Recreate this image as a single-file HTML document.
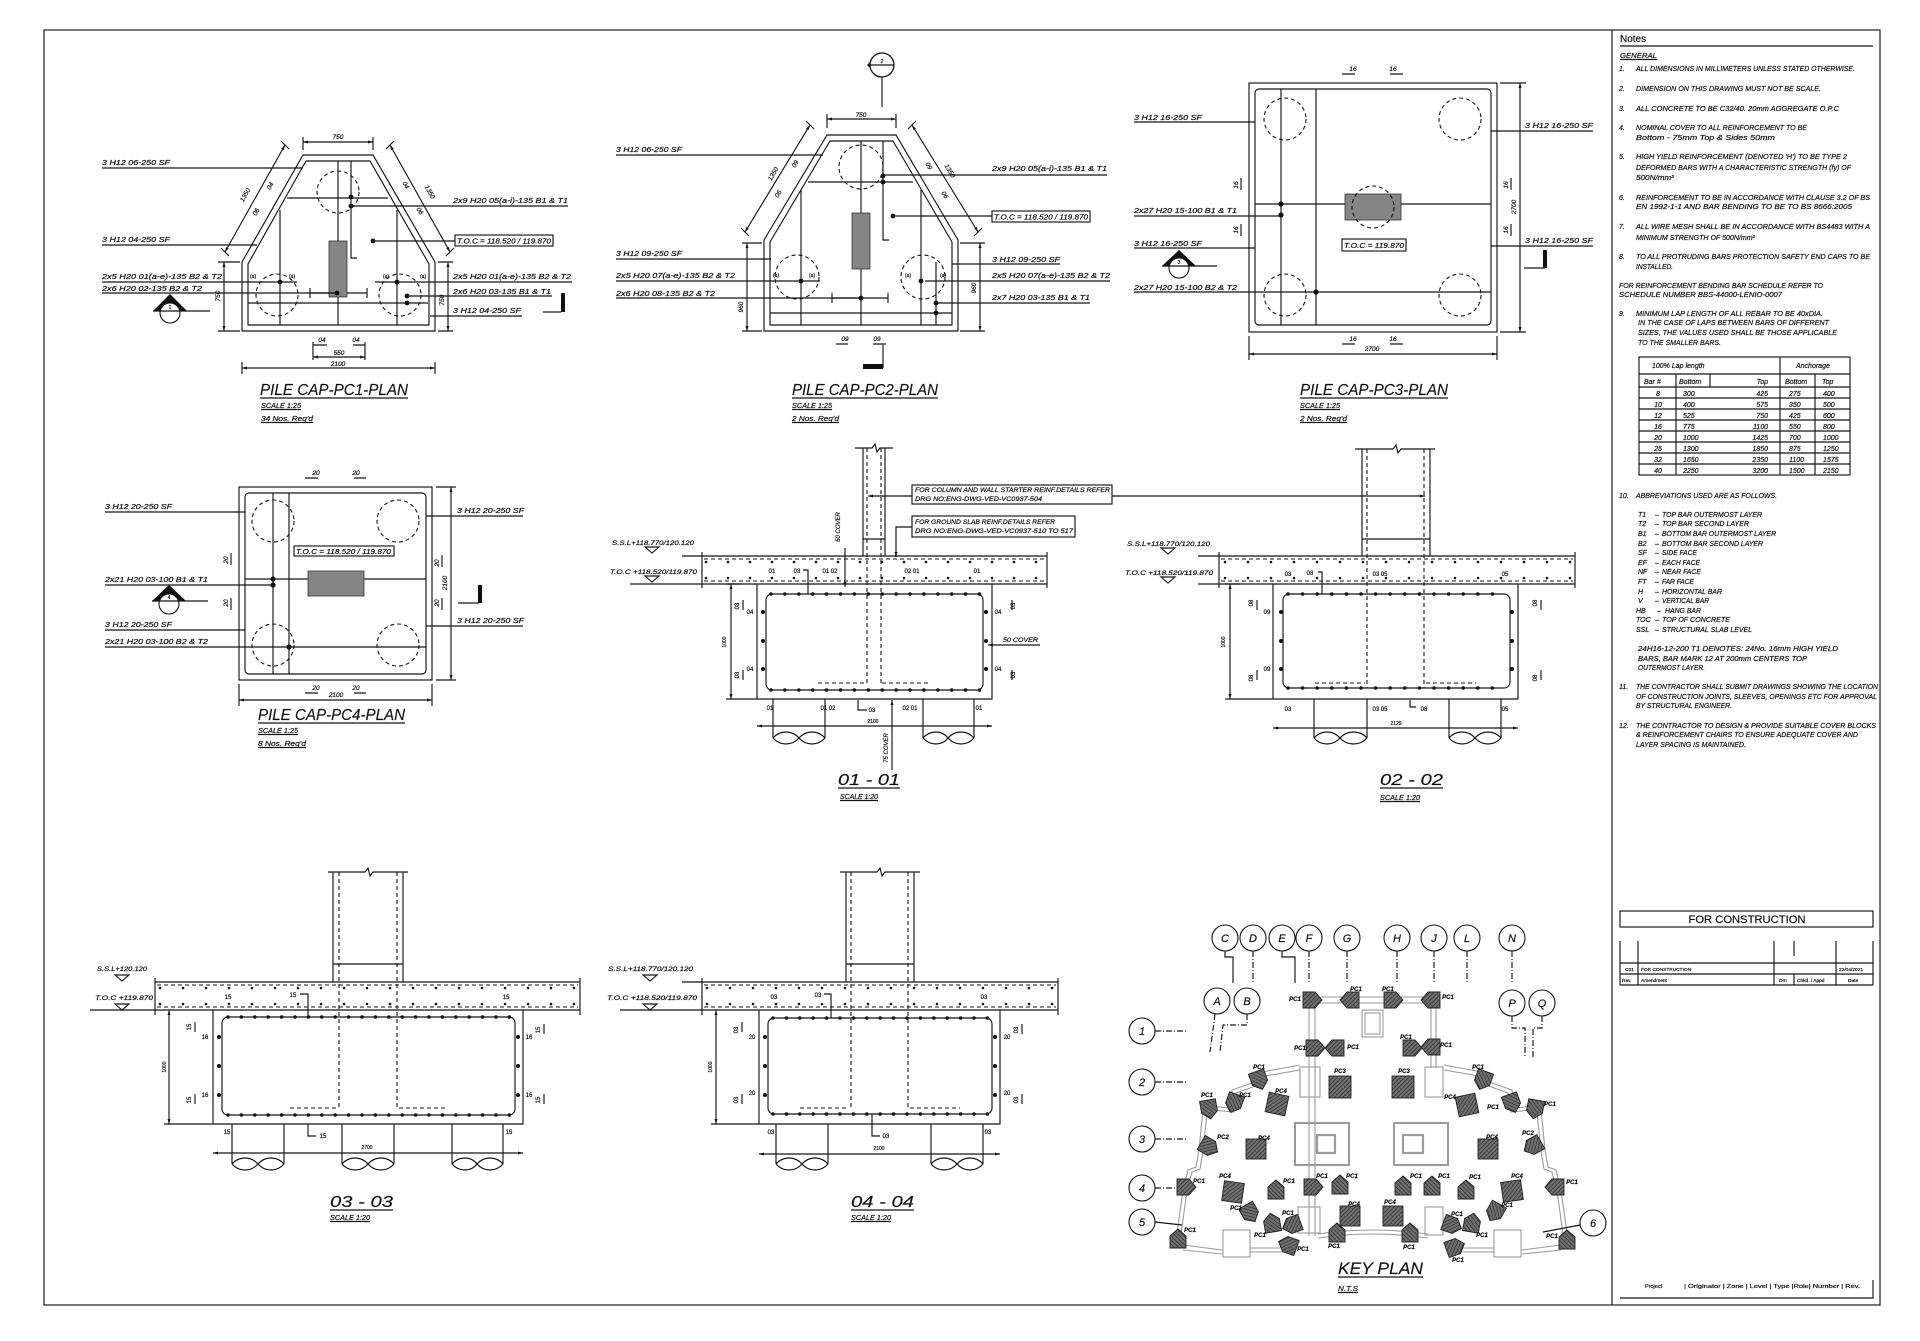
<!DOCTYPE html>
<html><head><meta charset="utf-8">
<style>
html,body{margin:0;padding:0;background:#fff;}
svg{display:block;}
.s{fill:none;stroke:#151515;stroke-width:1.15;}
.g{fill:none;stroke:#9a9a9a;stroke-width:1.1;}
.d{fill:none;stroke:#151515;stroke-width:1.1;stroke-dasharray:4,3;}
.dt{fill:none;stroke:#151515;stroke-linecap:round;}
text{font-family:"Liberation Sans",sans-serif;fill:#111;stroke:#111;stroke-width:0.2;}
.l{font-size:7px;font-style:italic;}
.n{font-size:6px;}
.ni{font-size:6.5px;font-style:italic;}
.ti{font-size:16px;font-style:italic;stroke-width:0.15;}
.k{font-size:11px;font-style:italic;}
.kp{font-size:6px;font-style:italic;font-weight:bold;}
</style></head><body>
<svg width="1920" height="1341" viewBox="0 0 1920 1341" xmlns="http://www.w3.org/2000/svg">
<defs>
<marker id="ar" viewBox="0 0 10 10" refX="10" refY="5" markerWidth="5" markerHeight="5" orient="auto-start-reverse" markerUnits="userSpaceOnUse"><path d="M0,2L10,5L0,8Z" fill="#151515"/></marker>
<pattern id="h" width="3" height="3" patternUnits="userSpaceOnUse" patternTransform="rotate(45)"><rect width="3" height="3" fill="#707070"/><line x1="0" y1="0" x2="0" y2="3" stroke="#222" stroke-width="1.3"/></pattern>
<path id="pc1" d="M-9,-8H3L10,0L3,8H-9Z" fill="url(#h)" stroke="#222" stroke-width="0.9"/>
<rect id="pc4" x="-10" y="-10" width="20" height="20" fill="url(#h)" stroke="#222" stroke-width="0.9"/>
<rect id="pc3" x="-11" y="-11" width="22" height="22" fill="url(#h)" stroke="#222" stroke-width="0.9"/>
</defs>
<rect width="1920" height="1341" fill="#fff"/>
<!-- frame -->
<rect class="s" x="44" y="30" width="1836" height="1275" stroke="#444" stroke-width="1.5"/>
<line class="s" x1="1612" y1="30" x2="1612" y2="1305" stroke-width="1.5"/>

<!-- ================= NOTES ================= -->
<text x="1620" y="42" style="font-size:10px">Notes</text>
<line class="s" x1="1620" y1="46" x2="1873" y2="46" stroke-width="2"/>
<text class="l" x="1620" y="58" textLength="37" lengthAdjust="spacingAndGlyphs">GENERAL</text>
<line class="s" x1="1620" y1="59.5" x2="1657" y2="59.5" stroke-width="0.7"/>
<g class="l">
<text x="1619" y="71">1.</text><text x="1636" y="71" textLength="219" lengthAdjust="spacingAndGlyphs">ALL DIMENSIONS IN MILLIMETERS UNLESS STATED OTHERWISE.</text>
<text x="1619" y="91">2.</text><text x="1636" y="91" textLength="185" lengthAdjust="spacingAndGlyphs">DIMENSION ON THIS DRAWING MUST NOT BE SCALE.</text>
<text x="1619" y="111">3.</text><text x="1636" y="111" textLength="203" lengthAdjust="spacingAndGlyphs">ALL CONCRETE TO BE C32/40. 20mm AGGREGATE O.P.C</text>
<text x="1619" y="130">4.</text><text x="1636" y="130" textLength="171" lengthAdjust="spacingAndGlyphs">NOMINAL COVER TO ALL REINFORCEMENT TO BE</text>
<text x="1636" y="140" textLength="139" lengthAdjust="spacingAndGlyphs">Bottom - 75mm Top &amp; Sides 50mm</text>
<text x="1619" y="159">5.</text><text x="1636" y="159" textLength="211" lengthAdjust="spacingAndGlyphs">HIGH YIELD REINFORCEMENT (DENOTED 'H') TO BE TYPE 2</text>
<text x="1636" y="170" textLength="215" lengthAdjust="spacingAndGlyphs">DEFORMED BARS WITH A CHARACTERISTIC STRENGTH (fy) OF</text>
<text x="1636" y="180" textLength="38" lengthAdjust="spacingAndGlyphs">500N/mm²</text>
<text x="1619" y="200">6.</text><text x="1636" y="200" textLength="234" lengthAdjust="spacingAndGlyphs">REINFORCEMENT TO BE IN ACCORDANCE WITH CLAUSE 3.2 OF BS</text>
<text x="1636" y="209" textLength="216" lengthAdjust="spacingAndGlyphs">EN 1992-1-1 AND BAR BENDING TO BE TO BS 8666:2005</text>
<text x="1619" y="229">7.</text><text x="1636" y="229" textLength="234" lengthAdjust="spacingAndGlyphs">ALL WIRE MESH SHALL BE IN ACCORDANCE WITH BS4483 WITH A</text>
<text x="1636" y="240" textLength="119" lengthAdjust="spacingAndGlyphs">MINIMUM STRENGTH OF 500N/mm²</text>
<text x="1619" y="259">8.</text><text x="1636" y="259" textLength="234" lengthAdjust="spacingAndGlyphs">TO ALL PROTRUDING BARS PROTECTION SAFETY END CAPS TO BE</text>
<text x="1636" y="269" textLength="37" lengthAdjust="spacingAndGlyphs">INSTALLED.</text>
<text x="1619" y="288" textLength="204" lengthAdjust="spacingAndGlyphs">FOR REINFORCEMENT BENDING BAR SCHEDULE REFER TO</text>
<text x="1619" y="297" textLength="163" lengthAdjust="spacingAndGlyphs">SCHEDULE NUMBER BBS-44000-LENIO-0007</text>
<text x="1619" y="316">9.</text><text x="1636" y="316" textLength="187" lengthAdjust="spacingAndGlyphs">MINIMUM LAP LENGTH OF ALL REBAR TO BE 40xDIA.</text>
<text x="1638" y="325" textLength="191" lengthAdjust="spacingAndGlyphs">IN THE CASE OF LAPS BETWEEN BARS OF DIFFERENT</text>
<text x="1638" y="335" textLength="199" lengthAdjust="spacingAndGlyphs">SIZES, THE VALUES USED SHALL BE THOSE APPLICABLE</text>
<text x="1638" y="345" textLength="83" lengthAdjust="spacingAndGlyphs">TO THE SMALLER BARS.</text>
</g>
<!-- table -->
<g class="s" stroke-width="1.2">
<rect x="1639" y="357" width="211" height="118"/>
<path d="M1639,374H1850 M1639,387H1850 M1639,398H1850 M1639,409H1850 M1639,420H1850 M1639,431H1850 M1639,442H1850 M1639,453H1850 M1639,464H1850 M1676,374V475 M1710,374V387 M1780,357V475 M1815,374V475"/>
</g>
<g class="l">
<text x="1652" y="368">100% Lap length</text><text x="1796" y="368">Anchorage</text>
<text x="1644" y="384">Bar #</text><text x="1679" y="384">Bottom</text><text x="1768" y="384" text-anchor="end">Top</text><text x="1785" y="384">Bottom</text><text x="1822" y="384">Top</text>
</g>
<g class="l">
<text x="1658" y="396" text-anchor="middle">8</text><text x="1683" y="396">300</text><text x="1768" y="396" text-anchor="end">425</text><text x="1789" y="396">275</text><text x="1823" y="396">400</text>
<text x="1658" y="407" text-anchor="middle">10</text><text x="1683" y="407">400</text><text x="1768" y="407" text-anchor="end">575</text><text x="1789" y="407">350</text><text x="1823" y="407">500</text>
<text x="1658" y="418" text-anchor="middle">12</text><text x="1683" y="418">525</text><text x="1768" y="418" text-anchor="end">750</text><text x="1789" y="418">425</text><text x="1823" y="418">600</text>
<text x="1658" y="429" text-anchor="middle">16</text><text x="1683" y="429">775</text><text x="1768" y="429" text-anchor="end">1100</text><text x="1789" y="429">550</text><text x="1823" y="429">800</text>
<text x="1658" y="440" text-anchor="middle">20</text><text x="1683" y="440">1000</text><text x="1768" y="440" text-anchor="end">1425</text><text x="1789" y="440">700</text><text x="1823" y="440">1000</text>
<text x="1658" y="451" text-anchor="middle">25</text><text x="1683" y="451">1300</text><text x="1768" y="451" text-anchor="end">1850</text><text x="1789" y="451">875</text><text x="1823" y="451">1250</text>
<text x="1658" y="462" text-anchor="middle">32</text><text x="1683" y="462">1650</text><text x="1768" y="462" text-anchor="end">2350</text><text x="1789" y="462">1100</text><text x="1823" y="462">1575</text>
<text x="1658" y="473" text-anchor="middle">40</text><text x="1683" y="473">2250</text><text x="1768" y="473" text-anchor="end">3200</text><text x="1789" y="473">1500</text><text x="1823" y="473">2150</text>
</g>
<g class="l">
<text x="1619" y="498">10.</text><text x="1636" y="498" textLength="141" lengthAdjust="spacingAndGlyphs">ABBREVIATIONS USED ARE AS FOLLOWS.</text>
<text x="1638" y="517">T1</text><text x="1655" y="517">–</text><text x="1662" y="517" textLength="100" lengthAdjust="spacingAndGlyphs">TOP BAR OUTERMOST LAYER</text>
<text x="1638" y="526">T2</text><text x="1655" y="526">–</text><text x="1662" y="526" textLength="87" lengthAdjust="spacingAndGlyphs">TOP BAR SECOND LAYER</text>
<text x="1638" y="536">B1</text><text x="1655" y="536">–</text><text x="1662" y="536" textLength="114" lengthAdjust="spacingAndGlyphs">BOTTOM BAR OUTERMOST LAYER</text>
<text x="1638" y="546">B2</text><text x="1655" y="546">–</text><text x="1662" y="546" textLength="101" lengthAdjust="spacingAndGlyphs">BOTTOM BAR SECOND LAYER</text>
<text x="1638" y="555">SF</text><text x="1655" y="555">–</text><text x="1662" y="555" textLength="35" lengthAdjust="spacingAndGlyphs">SIDE FACE</text>
<text x="1638" y="565">EF</text><text x="1655" y="565">–</text><text x="1662" y="565" textLength="38" lengthAdjust="spacingAndGlyphs">EACH FACE</text>
<text x="1638" y="574">NF</text><text x="1655" y="574">–</text><text x="1662" y="574" textLength="39" lengthAdjust="spacingAndGlyphs">NEAR FACE</text>
<text x="1638" y="584">FT</text><text x="1655" y="584">–</text><text x="1662" y="584" textLength="32" lengthAdjust="spacingAndGlyphs">FAR FACE</text>
<text x="1638" y="594">H</text><text x="1655" y="594">–</text><text x="1662" y="594" textLength="60" lengthAdjust="spacingAndGlyphs">HORIZONTAL BAR</text>
<text x="1638" y="603">V</text><text x="1655" y="603">–</text><text x="1662" y="603" textLength="47" lengthAdjust="spacingAndGlyphs">VERTICAL BAR</text>
<text x="1636" y="613">HB</text><text x="1657" y="613">–</text><text x="1665" y="613" textLength="36" lengthAdjust="spacingAndGlyphs">HANG BAR</text>
<text x="1636" y="622">TOC</text><text x="1655" y="622">–</text><text x="1662" y="622" textLength="68" lengthAdjust="spacingAndGlyphs">TOP OF CONCRETE</text>
<text x="1636" y="632">SSL</text><text x="1655" y="632">–</text><text x="1662" y="632" textLength="90" lengthAdjust="spacingAndGlyphs">STRUCTURAL SLAB LEVEL</text>
<text x="1638" y="651" textLength="200" lengthAdjust="spacingAndGlyphs">24H16-12-200 T1 DENOTES: 24No. 16mm HIGH YIELD</text>
<text x="1638" y="661" textLength="169" lengthAdjust="spacingAndGlyphs">BARS, BAR MARK 12 AT 200mm CENTERS TOP</text>
<text x="1638" y="670" textLength="67" lengthAdjust="spacingAndGlyphs">OUTERMOST LAYER.</text>
<text x="1619" y="689">11.</text><text x="1636" y="689" textLength="242" lengthAdjust="spacingAndGlyphs">THE CONTRACTOR SHALL SUBMIT DRAWINGS SHOWING THE LOCATION</text>
<text x="1636" y="699" textLength="241" lengthAdjust="spacingAndGlyphs">OF CONSTRUCTION JOINTS, SLEEVES, OPENINGS ETC FOR APPROVAL</text>
<text x="1636" y="708" textLength="96" lengthAdjust="spacingAndGlyphs">BY STRUCTURAL ENGINEER.</text>
<text x="1619" y="728">12.</text><text x="1636" y="728" textLength="240" lengthAdjust="spacingAndGlyphs">THE CONTRACTOR TO DESIGN &amp; PROVIDE SUITABLE COVER BLOCKS</text>
<text x="1636" y="737" textLength="222" lengthAdjust="spacingAndGlyphs">&amp; REINFORCEMENT CHAIRS TO ENSURE ADEQUATE COVER AND</text>
<text x="1636" y="747" textLength="110" lengthAdjust="spacingAndGlyphs">LAYER SPACING IS MAINTAINED.</text>
</g>
<!-- for construction -->
<rect class="s" x="1620" y="911" width="253" height="16" stroke-width="1.3"/>
<text x="1747" y="923" text-anchor="middle" style="font-size:11px" textLength="117" lengthAdjust="spacingAndGlyphs">FOR CONSTRUCTION</text>
<g class="s" stroke-width="1.2">
<path d="M1620,941V985 M1638,941V985 M1774,941V985 M1794,941V956 M1794,974V985 M1836,941V985 M1873,941V985 M1620,963H1873 M1620,974H1873 M1620,985H1873"/>
</g>
<g style="font-size:4.8px">
<text x="1625" y="971">C01</text><text x="1641" y="971">FOR CONSTRUCTION</text><text x="1839" y="971">22/04/2021</text>
<text x="1622" y="982">Rev.</text><text x="1641" y="982">Amendment</text><text x="1779" y="982">Drn</text><text x="1797" y="982">Chkd. / Appd</text><text x="1848" y="982">Date</text>
</g>
<g style="font-size:5.5px">
<text x="1645" y="1288">Project</text>
<text x="1684" y="1288" textLength="176" lengthAdjust="spacingAndGlyphs">| Originator | Zone | Level | Type |Role| Number | Rev.</text>
</g>
<path class="s" d="M1620,1298H1873V1280" stroke-width="1.2"/>

<!-- ================= PC1 PLAN ================= -->
<g>
<path class="s" d="M242,331V262L303,155H373L435,262V331Z" stroke-width="1.3"/>
<path class="s" d="M248,325V264L306,161H370L429,264V325Z" stroke-width="2.4" stroke-linejoin="round"/>
<g class="d"><circle cx="338" cy="192" r="21"/><circle cx="277" cy="295" r="21"/><circle cx="400" cy="295" r="21"/></g>
<path class="s" stroke-width="2" d="M287,198H388 M248,303H428"/>
<path class="s" stroke-width="1.6" d="M338,161V325 M280,210V325 M397,210V325"/>
<path class="s" d="M351,161V258H357 M310,288V298 M310,293H367 M367,288V298"/>
<rect x="329" y="241" width="18" height="56" fill="#858585" stroke="#333" stroke-width="0.8"/>
<g fill="#111"><circle cx="351" cy="197" r="2.4"/><circle cx="351" cy="206" r="2.4"/><circle cx="280" cy="282" r="2.4"/><circle cx="397" cy="282" r="2.4"/><circle cx="337" cy="293" r="2.4"/><circle cx="407" cy="296" r="2.4"/><circle cx="407" cy="303" r="2.4"/><circle cx="373" cy="241" r="2.4"/></g>
<g class="n" style="font-size:5px"><text x="250" y="278">(a)</text><text x="289" y="278">(a)</text><text x="383" y="278">(a)</text><text x="420" y="278">(a)</text></g>
<path class="s" d="M102,168H303 M102,245H257 M102,282H297 M102,293H337 M351,206H568 M373,241H455 M375,282H572 M407,296H552 M430,316H522"/>
<g class="l">
<text x="102" y="165" textLength="68" lengthAdjust="spacingAndGlyphs">3 H12 06-250 SF</text>
<text x="102" y="242" textLength="68" lengthAdjust="spacingAndGlyphs">3 H12 04-250 SF</text>
<text x="102" y="279" textLength="120" lengthAdjust="spacingAndGlyphs">2x5 H20 01(a-e)-135 B2 &amp; T2</text>
<text x="102" y="291" textLength="100" lengthAdjust="spacingAndGlyphs">2x6 H20 02-135 B2 &amp; T2</text>
<text x="453" y="203" textLength="115" lengthAdjust="spacingAndGlyphs">2x9 H20 05(a-i)-135 B1 &amp; T1</text>
<text x="453" y="279" textLength="118" lengthAdjust="spacingAndGlyphs">2x5 H20 01(a-e)-135 B2 &amp; T2</text>
<text x="453" y="294" textLength="98" lengthAdjust="spacingAndGlyphs">2x6 H20 03-135 B1 &amp; T1</text>
<text x="453" y="313" textLength="68" lengthAdjust="spacingAndGlyphs">3 H12 04-250 SF</text>
</g>
<rect class="s" x="455" y="235" width="98" height="11"/>
<text class="l" x="457" y="243.5" textLength="94" lengthAdjust="spacingAndGlyphs">T.O.C = 118.520 / 119.870</text>
<!-- dims -->
<g class="s" stroke-width="0.9">
<path d="M303,142H373" marker-start="url(#ar)" marker-end="url(#ar)"/><path d="M303,137V150 M373,137V150"/>
<path d="M285,145L225,252" marker-start="url(#ar)" marker-end="url(#ar)"/><path d="M281,141L289,149 M221,248L229,256"/>
<path d="M390,145L450,252" marker-start="url(#ar)" marker-end="url(#ar)"/><path d="M394,141L386,149 M454,248L446,256"/>
<path d="M224,262V331" marker-start="url(#ar)" marker-end="url(#ar)"/><path d="M218,262H240 M218,331H240"/>
<path d="M448,262V331" marker-start="url(#ar)" marker-end="url(#ar)"/><path d="M438,262H453 M438,331H453"/>
<path d="M313,357H365" marker-start="url(#ar)" marker-end="url(#ar)"/><path d="M313,342V360 M365,342V360"/>
<path d="M242,368H435" marker-start="url(#ar)" marker-end="url(#ar)"/><path d="M242,362V374 M435,362V374"/>
<path d="M313,345H327 M353,345H365"/>
</g>
<g class="ni">
<text x="338" y="139" text-anchor="middle">750</text>
<text x="247" y="196" text-anchor="middle" transform="rotate(-61 247 196)">1350</text>
<text x="272" y="187" text-anchor="middle" transform="rotate(-61 272 187)">04</text>
<text x="258" y="213" text-anchor="middle" transform="rotate(-61 258 213)">06</text>
<text x="428" y="193" text-anchor="middle" transform="rotate(61 428 193)">1350</text>
<text x="404" y="186" text-anchor="middle" transform="rotate(61 404 186)">04</text>
<text x="418" y="212" text-anchor="middle" transform="rotate(61 418 212)">06</text>
<text x="220" y="296" text-anchor="middle" transform="rotate(-90 220 296)">750</text>
<text x="444" y="300" text-anchor="middle" transform="rotate(-90 444 300)">750</text>
<text x="322" y="342" text-anchor="middle">04</text><text x="356" y="342" text-anchor="middle">04</text>
<text x="339" y="355" text-anchor="middle">550</text>
<text x="338" y="366" text-anchor="middle">2100</text>
</g>
<!-- markers -->
<path d="M153,311L170,294L187,311Z" fill="#111"/>
<circle cx="170" cy="313" r="10" fill="#fff" stroke="#151515" stroke-width="1.1"/>
<path class="s" d="M153,311H210"/>
<text class="n" x="170" y="309" text-anchor="middle" style="font-size:5px">1</text>
<path class="s" d="M543,312H561"/><rect x="561" y="293" width="4" height="19" fill="#111"/>
<text class="ti" x="260" y="395" textLength="148" lengthAdjust="spacingAndGlyphs">PILE CAP-PC1-PLAN</text>
<line class="s" x1="260" y1="398" x2="408" y2="398"/>
<text class="l" x="261" y="408" textLength="40" lengthAdjust="spacingAndGlyphs">SCALE 1:25</text>
<line class="s" x1="261" y1="409.5" x2="301" y2="409.5" stroke-width="0.7"/>
<text class="l" x="261" y="421" textLength="52" lengthAdjust="spacingAndGlyphs">34 Nos. Req'd</text>
<line class="s" x1="261" y1="422.5" x2="313" y2="422.5" stroke-width="0.7"/>
</g>

<!-- ================= PC2 PLAN ================= -->
<g>
<path class="s" d="M764,331V240L827,135H896L958,240V331Z" stroke-width="1.3"/>
<path class="s" d="M770,325V242L830,141H893L952,242V325Z" stroke-width="2.4" stroke-linejoin="round"/>
<g class="d"><circle cx="861" cy="167" r="22"/><circle cx="797" cy="277" r="22"/><circle cx="923" cy="277" r="22"/></g>
<path class="s" stroke-width="2" d="M808,182H913 M770,313H952"/>
<path class="s" stroke-width="1.6" d="M861,141V325 M801,190V325 M921,190V325"/>
<path class="s" d="M883,141V240H889 M832,293V303 M832,298H888 M888,293V303 M936,262V325"/>
<rect x="852" y="213" width="18" height="56" fill="#858585" stroke="#333" stroke-width="0.8"/>
<g fill="#111"><circle cx="883" cy="176" r="2.4"/><circle cx="883" cy="182" r="2.4"/><circle cx="893" cy="216" r="2.4"/><circle cx="801" cy="281" r="2.4"/><circle cx="921" cy="281" r="2.4"/><circle cx="861" cy="298" r="2.4"/><circle cx="936" cy="303" r="2.4"/><circle cx="936" cy="313" r="2.4"/></g>
<g class="n" style="font-size:5px"><text x="773" y="277">(a)</text><text x="809" y="277">(a)</text><text x="905" y="277">(a)</text><text x="940" y="277">(a)</text></g>
<path class="s" d="M616,155H823 M616,259H771 M616,281H820 M616,298H861 M883,175H1107 M893,216H992 M952,264H1060 M925,281H1110 M936,303H1090"/>
<g class="l">
<text x="616" y="152" textLength="66" lengthAdjust="spacingAndGlyphs">3 H12 06-250 SF</text>
<text x="616" y="256" textLength="66" lengthAdjust="spacingAndGlyphs">3 H12 09-250 SF</text>
<text x="616" y="278" textLength="119" lengthAdjust="spacingAndGlyphs">2x5 H20 07(a-e)-135 B2 &amp; T2</text>
<text x="616" y="296" textLength="99" lengthAdjust="spacingAndGlyphs">2x6 H20 08-135 B2 &amp; T2</text>
<text x="992" y="171" textLength="115" lengthAdjust="spacingAndGlyphs">2x9 H20 05(a-i)-135 B1 &amp; T1</text>
<text x="992" y="262" textLength="68" lengthAdjust="spacingAndGlyphs">3 H12 09-250 SF</text>
<text x="992" y="278" textLength="118" lengthAdjust="spacingAndGlyphs">2x5 H20 07(a-e)-135 B2 &amp; T2</text>
<text x="992" y="300" textLength="98" lengthAdjust="spacingAndGlyphs">2x7 H20 03-135 B1 &amp; T1</text>
</g>
<rect class="s" x="992" y="211" width="98" height="11"/>
<text class="l" x="994" y="219.5" textLength="94" lengthAdjust="spacingAndGlyphs">T.O.C = 118.520 / 119.870</text>
<g class="s" stroke-width="0.9">
<path d="M827,119H896" marker-start="url(#ar)" marker-end="url(#ar)"/><path d="M827,114V128 M896,114V128"/>
<path d="M810,125L745,232" marker-start="url(#ar)" marker-end="url(#ar)"/><path d="M806,121L814,129 M741,228L749,236"/>
<path d="M912,125L978,232" marker-start="url(#ar)" marker-end="url(#ar)"/><path d="M916,121L908,129 M982,228L974,236"/>
<path d="M747,243V331" marker-start="url(#ar)" marker-end="url(#ar)"/><path d="M742,243H762 M742,331H762"/>
<path d="M980,243V331" marker-start="url(#ar)" marker-end="url(#ar)"/><path d="M960,243H985 M960,331H985"/>
<path d="M836,344H848 M873,344H886"/>
</g>
<g class="ni">
<text x="861" y="117" text-anchor="middle">750</text>
<text x="775" y="175" text-anchor="middle" transform="rotate(-59 775 175)">1350</text>
<text x="797" y="165" text-anchor="middle" transform="rotate(-59 797 165)">09</text>
<text x="780" y="195" text-anchor="middle" transform="rotate(-59 780 195)">06</text>
<text x="948" y="172" text-anchor="middle" transform="rotate(59 948 172)">1350</text>
<text x="927" y="167" text-anchor="middle" transform="rotate(59 927 167)">09</text>
<text x="943" y="196" text-anchor="middle" transform="rotate(59 943 196)">06</text>
<text x="743" y="307" text-anchor="middle" transform="rotate(-90 743 307)">960</text>
<text x="976" y="288" text-anchor="middle" transform="rotate(-90 976 288)">960</text>
<text x="845" y="341" text-anchor="middle">09</text><text x="877" y="341" text-anchor="middle">09</text>
</g>
<!-- top marker -->
<path d="M867,65L880,52L880,78Z" fill="#111"/>
<circle cx="882" cy="65" r="12" fill="#fff" stroke="#151515" stroke-width="1.3"/>
<path class="s" d="M870,65H894 M882,77V107"/>
<text class="n" x="882" y="63" text-anchor="middle" style="font-size:5px">2</text>
<path class="s" d="M883,345V368"/><rect x="863" y="364" width="20" height="5" fill="#111"/>
<text class="ti" x="792" y="395" textLength="146" lengthAdjust="spacingAndGlyphs">PILE CAP-PC2-PLAN</text>
<line class="s" x1="792" y1="398" x2="938" y2="398"/>
<text class="l" x="792" y="408" textLength="40" lengthAdjust="spacingAndGlyphs">SCALE 1:25</text>
<line class="s" x1="792" y1="409.5" x2="832" y2="409.5" stroke-width="0.7"/>
<text class="l" x="792" y="421" textLength="47" lengthAdjust="spacingAndGlyphs">2 Nos. Req'd</text>
<line class="s" x1="792" y1="422.5" x2="839" y2="422.5" stroke-width="0.7"/>
</g>

<!-- ================= PC3 PLAN ================= -->
<g>
<rect class="s" x="1249" y="83" width="248" height="249" stroke-width="1.3"/>
<rect class="s" x="1255" y="89" width="236" height="236" rx="4" stroke-width="2.4"/>
<path class="s" d="M1281,89V325"/>
<path class="s" stroke-width="1.6" d="M1316,89V325"/>
<path class="s" stroke-width="2" d="M1255,204H1491 M1255,292H1491"/>
<rect x="1345" y="194" width="56" height="26" fill="#858585" stroke="#333" stroke-width="0.8"/>
<g class="d"><circle cx="1285" cy="119" r="21"/><circle cx="1460" cy="119" r="21"/><circle cx="1285" cy="295" r="21"/><circle cx="1460" cy="295" r="21"/><circle cx="1373" cy="207" r="21"/></g>
<g fill="#111"><circle cx="1281" cy="204" r="2.6"/><circle cx="1281" cy="215" r="2.6"/><circle cx="1316" cy="292" r="2.6"/></g>
<rect class="s" x="1342" y="239" width="64" height="12"/>
<text class="l" x="1344" y="248" textLength="60" lengthAdjust="spacingAndGlyphs">T.O.C = 119.870</text>
<path class="s" d="M1134,122H1255 M1134,216H1281 M1134,248H1255 M1134,292H1255 M1491,131H1593 M1491,246H1593"/>
<g class="l">
<text x="1134" y="120" textLength="68" lengthAdjust="spacingAndGlyphs">3 H12 16-250 SF</text>
<text x="1134" y="213" textLength="103" lengthAdjust="spacingAndGlyphs">2x27 H20 15-100 B1 &amp; T1</text>
<text x="1134" y="246" textLength="68" lengthAdjust="spacingAndGlyphs">3 H12 16-250 SF</text>
<text x="1134" y="290" textLength="103" lengthAdjust="spacingAndGlyphs">2x27 H20 15-100 B2 &amp; T2</text>
<text x="1525" y="128" textLength="68" lengthAdjust="spacingAndGlyphs">3 H12 16-250 SF</text>
<text x="1525" y="243" textLength="68" lengthAdjust="spacingAndGlyphs">3 H12 16-250 SF</text>
</g>
<g class="s" stroke-width="0.9">
<path d="M1520,83V332" marker-start="url(#ar)" marker-end="url(#ar)"/><path d="M1500,83H1526 M1500,332H1526"/>
<path d="M1249,354H1497" marker-start="url(#ar)" marker-end="url(#ar)"/><path d="M1249,336V360 M1497,336V360"/>
<path d="M1342,74H1355 M1390,74H1403 M1342,344H1355 M1390,344H1403 M1241,178V190 M1241,224V236 M1511,178V190 M1511,224V236"/>
</g>
<g class="ni">
<text x="1516" y="207" text-anchor="middle" transform="rotate(-90 1516 207)">2700</text>
<text x="1372" y="351" text-anchor="middle">2700</text>
<text x="1353" y="71" text-anchor="middle">16</text><text x="1393" y="71" text-anchor="middle">16</text>
<text x="1353" y="341" text-anchor="middle">16</text><text x="1393" y="341" text-anchor="middle">16</text>
<text x="1238" y="185" text-anchor="middle" transform="rotate(-90 1238 185)">16</text>
<text x="1238" y="230" text-anchor="middle" transform="rotate(-90 1238 230)">16</text>
<text x="1508" y="185" text-anchor="middle" transform="rotate(-90 1508 185)">16</text>
<text x="1508" y="230" text-anchor="middle" transform="rotate(-90 1508 230)">16</text>
</g>
<path d="M1162,266L1179,250L1196,266Z" fill="#111"/>
<circle cx="1179" cy="268" r="10" fill="#fff" stroke="#151515" stroke-width="1.1"/>
<path class="s" d="M1162,266H1217"/>
<text class="n" x="1179" y="264" text-anchor="middle" style="font-size:5px">3</text>
<path class="s" d="M1524,268H1545"/><rect x="1543" y="250" width="4" height="18" fill="#111"/>
<text class="ti" x="1300" y="395" textLength="148" lengthAdjust="spacingAndGlyphs">PILE CAP-PC3-PLAN</text>
<line class="s" x1="1300" y1="398" x2="1448" y2="398"/>
<text class="l" x="1300" y="408" textLength="40" lengthAdjust="spacingAndGlyphs">SCALE 1:25</text>
<line class="s" x1="1300" y1="409.5" x2="1340" y2="409.5" stroke-width="0.7"/>
<text class="l" x="1300" y="421" textLength="47" lengthAdjust="spacingAndGlyphs">2 Nos. Req'd</text>
<line class="s" x1="1300" y1="422.5" x2="1347" y2="422.5" stroke-width="0.7"/>
</g>

<!-- ================= PC4 PLAN ================= -->
<g>
<rect class="s" x="239" y="487" width="193" height="193" stroke-width="1.3"/>
<rect class="s" x="245" y="493" width="181" height="181" rx="4" stroke-width="2.4"/>
<path class="s" d="M273,493V674"/>
<path class="s" stroke-width="1.6" d="M289,493V674"/>
<path class="s" stroke-width="2" d="M245,579H426 M245,647H426"/>
<g class="d"><circle cx="273" cy="521" r="21"/><circle cx="398" cy="521" r="21"/><circle cx="273" cy="645" r="21"/><circle cx="398" cy="645" r="21"/></g>
<rect x="308" y="571" width="56" height="25" fill="#858585" stroke="#333" stroke-width="0.8"/>
<g fill="#111"><circle cx="273" cy="579" r="2.6"/><circle cx="273" cy="585" r="2.6"/><circle cx="289" cy="647" r="2.6"/></g>
<rect class="s" x="294" y="546" width="100" height="10"/>
<text class="l" x="296" y="554" textLength="95" lengthAdjust="spacingAndGlyphs">T.O.C = 118.520 / 119.870</text>
<path class="s" d="M105,512H245 M105,585H273 M105,630H245 M105,647H245 M426,516H523 M426,626H523"/>
<g class="l">
<text x="105" y="509" textLength="67" lengthAdjust="spacingAndGlyphs">3 H12 20-250 SF</text>
<text x="105" y="582" textLength="103" lengthAdjust="spacingAndGlyphs">2x21 H20 03-100 B1 &amp; T1</text>
<text x="105" y="627" textLength="67" lengthAdjust="spacingAndGlyphs">3 H12 20-250 SF</text>
<text x="105" y="644" textLength="103" lengthAdjust="spacingAndGlyphs">2x21 H20 03-100 B2 &amp; T2</text>
<text x="457" y="513" textLength="67" lengthAdjust="spacingAndGlyphs">3 H12 20-250 SF</text>
<text x="457" y="623" textLength="67" lengthAdjust="spacingAndGlyphs">3 H12 20-250 SF</text>
</g>
<g class="s" stroke-width="0.9">
<path d="M451,487V680" marker-start="url(#ar)" marker-end="url(#ar)"/><path d="M436,487H456 M436,680H456"/>
<path d="M239,700H432" marker-start="url(#ar)" marker-end="url(#ar)"/><path d="M239,684V706 M432,684V706"/>
<path d="M305,478H318 M354,478H366 M305,693H318 M354,693H366 M231,553V565 M231,598V610 M442,555V567 M442,598V610"/>
</g>
<g class="ni">
<text x="447" y="583" text-anchor="middle" transform="rotate(-90 447 583)">2100</text>
<text x="336" y="697" text-anchor="middle">2100</text>
<text x="316" y="475" text-anchor="middle">20</text><text x="356" y="475" text-anchor="middle">20</text>
<text x="316" y="690" text-anchor="middle">20</text><text x="356" y="690" text-anchor="middle">20</text>
<text x="228" y="560" text-anchor="middle" transform="rotate(-90 228 560)">20</text>
<text x="228" y="603" text-anchor="middle" transform="rotate(-90 228 603)">20</text>
<text x="439" y="563" text-anchor="middle" transform="rotate(-90 439 563)">20</text>
<text x="439" y="603" text-anchor="middle" transform="rotate(-90 439 603)">20</text>
</g>
<path d="M152,601L169,585L186,601Z" fill="#111"/>
<circle cx="169" cy="604" r="10" fill="#fff" stroke="#151515" stroke-width="1.1"/>
<path class="s" d="M152,601H208"/>
<text class="n" x="169" y="599" text-anchor="middle" style="font-size:5px">4</text>
<path class="s" d="M458,603H479"/><rect x="478" y="585" width="4" height="18" fill="#111"/>
<text class="ti" x="258" y="720" textLength="147" lengthAdjust="spacingAndGlyphs">PILE CAP-PC4-PLAN</text>
<line class="s" x1="258" y1="723" x2="405" y2="723"/>
<text class="l" x="258" y="733" textLength="40" lengthAdjust="spacingAndGlyphs">SCALE 1:25</text>
<line class="s" x1="258" y1="734.5" x2="298" y2="734.5" stroke-width="0.7"/>
<text class="l" x="258" y="746" textLength="48" lengthAdjust="spacingAndGlyphs">8 Nos. Req'd</text>
<line class="s" x1="258" y1="747.5" x2="306" y2="747.5" stroke-width="0.7"/>
</g>

<!-- ================= SECTION 01-01 ================= -->
<g>
<path class="s" d="M855,448H872L875,444L877,452L880,448H893 M863,448V556 M885,448V556 M863,539H885"/>
<path class="d" d="M867,448V683 M881,448V683" stroke-dasharray="5,3"/>
<path class="s" d="M682,556H1047 M630,584H1047 M702,552V588 M1047,552V588"/>
<path class="d" d="M704,559H1045 M704,581H1045" stroke-dasharray="6,3"/>
<path class="dt" d="M706,562H1045 M706,578H1045" stroke-width="2.6" stroke-dasharray="0,22"/>
<path class="s" d="M757,584V699H992V584"/>
<rect class="s" x="766" y="594" width="217" height="96" rx="6" stroke-width="2.4"/>
<path class="dt" d="M771,594H980 M771,690H980" stroke-width="3.6" stroke-dasharray="0,13.9"/>
<g fill="#111"><circle cx="763" cy="612" r="2"/><circle cx="763" cy="641" r="2"/><circle cx="763" cy="669" r="2"/><circle cx="986" cy="612" r="2"/><circle cx="986" cy="641" r="2"/><circle cx="986" cy="669" r="2"/></g>
<path class="d" d="M818,683H866 M882,683H930"/>
<path class="s" d="M773,699V738 M825,699V738 M923,699V738 M974,699V738"/>
<path class="s" d="M773,738C780,730 792,730 799,738C806,746 818,746 825,738 M773,738C780,746 792,746 799,738C806,730 818,730 825,738 M923,738C930,730 942,730 948,738C955,746 967,746 974,738 M923,738C930,746 942,746 948,738C955,730 967,730 974,738"/>
<g class="s" stroke-width="0.9">
<path d="M757,726H992" marker-start="url(#ar)" marker-end="url(#ar)"/>
<path d="M731,584V699" marker-start="url(#ar)" marker-end="url(#ar)"/><path d="M726,584H740 M726,699H757"/>
<path d="M645,547H659L652,553Z M645,576H659L652,582Z"/>
<path d="M912,496H868" marker-end="url(#ar)"/><path d="M1112,496H1425" marker-end="url(#ar)"/>
<path d="M912,527H896V557" marker-end="url(#ar)"/>
<path d="M845,548V587" marker-end="url(#ar)"/>
<path d="M1040,645H988" marker-end="url(#ar)"/>
<path d="M892,770V700" marker-end="url(#ar)"/>
<path d="M803,570H808V594 M858,707V700 M867,710H858V700 M743,600V610 M743,670V680 M1012,600V610 M1012,670V680"/>
</g>
<rect class="s" x="912" y="485" width="200" height="19"/>
<rect class="s" x="912" y="516" width="163" height="21"/>
<g class="l" style="font-size:6px">
<text x="915" y="492" textLength="195" lengthAdjust="spacingAndGlyphs">FOR COLUMN AND WALL STARTER  REINF.DETAILS REFER</text>
<text x="915" y="501" textLength="127" lengthAdjust="spacingAndGlyphs">DRG NO:ENG-DWG-VED-VC0937-504</text>
<text x="915" y="524" textLength="140" lengthAdjust="spacingAndGlyphs">FOR GROUND SLAB REINF.DETAILS REFER</text>
<text x="915" y="533" textLength="158" lengthAdjust="spacingAndGlyphs">DRG NO:ENG-DWG-VED-VC0937-510 TO 517</text>
<text x="840" y="527" text-anchor="middle" transform="rotate(-90 840 527)">50 COVER</text>
<text x="1003" y="642" textLength="35" lengthAdjust="spacingAndGlyphs">50 COVER</text>
<text x="888" y="748" text-anchor="middle" transform="rotate(-90 888 748)">75 COVER</text>
<text x="612" y="545" textLength="82" lengthAdjust="spacingAndGlyphs">S.S.L+118.770/120.120</text>
<text x="610" y="574" textLength="87" lengthAdjust="spacingAndGlyphs">T.O.C +118.520/119.870</text>
</g>
<g class="n">
<text x="772" y="573" text-anchor="middle">01</text><text x="797" y="573" text-anchor="middle">03</text><text x="830" y="573" text-anchor="middle">01 02</text><text x="912" y="573" text-anchor="middle">02 01</text><text x="977" y="573" text-anchor="middle">01</text>
<text x="770" y="710" text-anchor="middle">01</text><text x="828" y="710" text-anchor="middle">01 02</text><text x="872" y="712" text-anchor="middle">03</text><text x="910" y="710" text-anchor="middle">02 01</text><text x="979" y="710" text-anchor="middle">01</text>
<text x="750" y="614" text-anchor="middle">04</text><text x="750" y="671" text-anchor="middle">04</text><text x="998" y="614" text-anchor="middle">04</text><text x="998" y="671" text-anchor="middle">04</text>
<text x="739" y="606" text-anchor="middle" transform="rotate(-90 739 606)">03</text><text x="739" y="675" text-anchor="middle" transform="rotate(-90 739 675)">03</text>
<text x="1015" y="606" text-anchor="middle" transform="rotate(-90 1015 606)">03</text><text x="1015" y="675" text-anchor="middle" transform="rotate(-90 1015 675)">03</text>
<text x="873" y="723" text-anchor="middle" style="font-size:5px">2100</text>
<text x="726" y="642" text-anchor="middle" transform="rotate(-90 726 642)" style="font-size:5px">1000</text>
</g>
<text class="ti" x="838" y="785" textLength="62" lengthAdjust="spacingAndGlyphs">01 - 01</text>
<line class="s" x1="838" y1="788" x2="900" y2="788"/>
<text class="l" x="840" y="799" textLength="38" lengthAdjust="spacingAndGlyphs">SCALE 1:20</text>
<line class="s" x1="840" y1="800.5" x2="878" y2="800.5" stroke-width="0.7"/>
</g>

<!-- ================= SECTION 02-02 ================= -->
<g>
<path class="s" d="M1355,449H1393L1396,445L1398,453L1401,449H1435 M1362,449V556 M1430,449V556 M1362,539H1430"/>
<path class="d" d="M1367,449V688 M1424,449V688" stroke-dasharray="5,3"/>
<path class="s" d="M1198,556H1575 M1198,584H1575 M1219,552V588 M1575,552V588"/>
<path class="d" d="M1221,559H1573 M1221,581H1573" stroke-dasharray="6,3"/>
<path class="dt" d="M1225,562H1573 M1225,578H1573" stroke-width="2.6" stroke-dasharray="0,23"/>
<path class="s" d="M1273,584V699H1518V584"/>
<rect class="s" x="1283" y="594" width="227" height="94" rx="6" stroke-width="2.4"/>
<path class="dt" d="M1288,594H1507 M1288,688H1507" stroke-width="3.6" stroke-dasharray="0,14.6"/>
<g fill="#111"><circle cx="1281" cy="612" r="2"/><circle cx="1281" cy="641" r="2"/><circle cx="1281" cy="669" r="2"/><circle cx="1512" cy="612" r="2"/><circle cx="1512" cy="641" r="2"/><circle cx="1512" cy="669" r="2"/></g>
<path class="d" d="M1315,683H1365 M1426,683H1476"/>
<path class="s" d="M1314,699V738 M1367,699V738 M1449,699V738 M1501,699V738"/>
<path class="s" d="M1314,738C1321,730 1333,730 1340,738C1347,746 1360,746 1367,738 M1314,738C1321,746 1333,746 1340,738C1347,730 1360,730 1367,738 M1449,738C1456,730 1468,730 1475,738C1482,746 1494,746 1501,738 M1449,738C1456,746 1468,746 1475,738C1482,730 1494,730 1501,738"/>
<g class="s" stroke-width="0.9">
<path d="M1273,728H1518" marker-start="url(#ar)" marker-end="url(#ar)"/>
<path d="M1230,584V699" marker-start="url(#ar)" marker-end="url(#ar)"/><path d="M1225,584H1240 M1225,699H1273"/>
<path d="M1161,548H1175L1168,554Z M1161,577H1175L1168,583Z"/>
<path d="M1318,572H1322V594 M1410,700V707H1416 M1257,600V610 M1257,670V680 M1541,600V610 M1541,670V680"/>
</g>
<g class="l" style="font-size:6px">
<text x="1127" y="546" textLength="83" lengthAdjust="spacingAndGlyphs">S.S.L+118.770/120.120</text>
<text x="1125" y="575" textLength="88" lengthAdjust="spacingAndGlyphs">T.O.C +118.520/119.870</text>
</g>
<g class="n">
<text x="1288" y="576" text-anchor="middle">03</text><text x="1310" y="575" text-anchor="middle">08</text><text x="1380" y="576" text-anchor="middle">03 05</text><text x="1505" y="576" text-anchor="middle">05</text>
<text x="1288" y="711" text-anchor="middle">03</text><text x="1380" y="711" text-anchor="middle">03 05</text><text x="1424" y="711" text-anchor="middle">08</text><text x="1505" y="711" text-anchor="middle">05</text>
<text x="1267" y="614" text-anchor="middle">09</text><text x="1267" y="671" text-anchor="middle">09</text>
<text x="1253" y="603" text-anchor="middle" transform="rotate(-90 1253 603)">08</text><text x="1253" y="678" text-anchor="middle" transform="rotate(-90 1253 678)">08</text>
<text x="1537" y="603" text-anchor="middle" transform="rotate(-90 1537 603)">08</text><text x="1537" y="678" text-anchor="middle" transform="rotate(-90 1537 678)">08</text>
<text x="1396" y="725" text-anchor="middle" style="font-size:5px">2129</text>
<text x="1225" y="642" text-anchor="middle" transform="rotate(-90 1225 642)" style="font-size:5px">1000</text>
</g>
<text class="ti" x="1380" y="785" textLength="63" lengthAdjust="spacingAndGlyphs">02 - 02</text>
<line class="s" x1="1380" y1="788" x2="1443" y2="788"/>
<text class="l" x="1380" y="800" textLength="40" lengthAdjust="spacingAndGlyphs">SCALE 1:20</text>
<line class="s" x1="1380" y1="801.5" x2="1420" y2="801.5" stroke-width="0.7"/>
</g>

<!-- ================= SECTION 03-03 ================= -->
<g>
<path class="s" d="M328,872H365L368,868L370,876L373,872H408 M333,872V982 M403,872V982 M333,964H403"/>
<path class="d" d="M339,872V1108 M397,872V1108" stroke-dasharray="5,3"/>
<path class="s" d="M155,982H580 M90,1010H580 M155,978V1015 M580,978V1015"/>
<path class="d" d="M157,985H578 M157,1007H578" stroke-dasharray="6,3"/>
<path class="dt" d="M160,988H578 M160,1004H578" stroke-width="2.6" stroke-dasharray="0,23"/>
<path class="s" d="M213,1010V1124H523V1010"/>
<rect class="s" x="222" y="1017" width="293" height="98" rx="6" stroke-width="2.4"/>
<path class="dt" d="M228,1017H510 M228,1115H510" stroke-width="3.6" stroke-dasharray="0,13.4"/>
<g fill="#111"><circle cx="219" cy="1037" r="2"/><circle cx="219" cy="1066" r="2"/><circle cx="219" cy="1095" r="2"/><circle cx="518" cy="1037" r="2"/><circle cx="518" cy="1066" r="2"/><circle cx="518" cy="1095" r="2"/></g>
<path class="d" d="M290,1108H337 M399,1108H445"/>
<path class="s" d="M232,1124V1164 M284,1124V1164 M342,1124V1164 M394,1124V1164 M452,1124V1164 M503,1124V1164"/>
<path class="s" d="M232,1164C239,1156 251,1156 258,1164C265,1172 277,1172 284,1164 M232,1164C239,1172 251,1172 258,1164C265,1156 277,1156 284,1164 M342,1164C349,1156 361,1156 368,1164C375,1172 387,1172 394,1164 M342,1164C349,1172 361,1172 368,1164C375,1156 387,1156 394,1164 M452,1164C459,1156 471,1156 477,1164C484,1172 496,1172 503,1164 M452,1164C459,1172 471,1172 477,1164C484,1156 496,1156 503,1164"/>
<g class="s" stroke-width="0.9">
<path d="M213,1153H523" marker-start="url(#ar)" marker-end="url(#ar)"/>
<path d="M169,1010V1124" marker-start="url(#ar)" marker-end="url(#ar)"/><path d="M164,1124H213"/>
<path d="M115,975H129L122,981Z M115,1004H129L122,1010Z"/>
<path d="M300,994H308V1017 M308,1124V1136H316 M195,1022V1032 M195,1094V1104 M544,1024V1034 M544,1094V1104"/>
</g>
<g class="l" style="font-size:6px">
<text x="97" y="971" textLength="50" lengthAdjust="spacingAndGlyphs">S.S.L+120.120</text>
<text x="95" y="1000" textLength="58" lengthAdjust="spacingAndGlyphs">T.O.C +119.870</text>
</g>
<g class="n">
<text x="228" y="999" text-anchor="middle">15</text><text x="293" y="997" text-anchor="middle">15</text><text x="506" y="999" text-anchor="middle">15</text>
<text x="227" y="1134" text-anchor="middle">15</text><text x="323" y="1138" text-anchor="middle">15</text><text x="509" y="1134" text-anchor="middle">15</text>
<text x="205" y="1039" text-anchor="middle">16</text><text x="205" y="1097" text-anchor="middle">16</text><text x="529" y="1039" text-anchor="middle">16</text><text x="529" y="1097" text-anchor="middle">16</text>
<text x="191" y="1027" text-anchor="middle" transform="rotate(-90 191 1027)">15</text><text x="191" y="1100" text-anchor="middle" transform="rotate(-90 191 1100)">15</text>
<text x="540" y="1030" text-anchor="middle" transform="rotate(-90 540 1030)">15</text><text x="540" y="1100" text-anchor="middle" transform="rotate(-90 540 1100)">15</text>
<text x="367" y="1149" text-anchor="middle" style="font-size:5px">2700</text>
<text x="166" y="1067" text-anchor="middle" transform="rotate(-90 166 1067)" style="font-size:5px">1000</text>
</g>
<text class="ti" x="330" y="1207" textLength="63" lengthAdjust="spacingAndGlyphs">03 - 03</text>
<line class="s" x1="330" y1="1210" x2="393" y2="1210"/>
<text class="l" x="330" y="1220" textLength="40" lengthAdjust="spacingAndGlyphs">SCALE 1:20</text>
<line class="s" x1="330" y1="1221.5" x2="370" y2="1221.5" stroke-width="0.7"/>
</g>

<!-- ================= SECTION 04-04 ================= -->
<g>
<path class="s" d="M840,872H877L880,868L882,876L885,872H920 M846,872V982 M914,872V982 M846,964H914"/>
<path class="d" d="M851,872V1108 M908,872V1108" stroke-dasharray="5,3"/>
<path class="s" d="M682,982H1058 M620,1010H1058 M702,978V1015 M1058,978V1015"/>
<path class="d" d="M704,985H1056 M704,1007H1056" stroke-dasharray="6,3"/>
<path class="dt" d="M707,988H1056 M707,1004H1056" stroke-width="2.6" stroke-dasharray="0,23"/>
<path class="s" d="M759,1010V1124H1000V1010"/>
<rect class="s" x="768" y="1018" width="224" height="96" rx="6" stroke-width="2.4"/>
<path class="dt" d="M773,1018H988 M773,1114H988" stroke-width="3.6" stroke-dasharray="0,13.4"/>
<g fill="#111"><circle cx="765" cy="1037" r="2"/><circle cx="765" cy="1066" r="2"/><circle cx="765" cy="1095" r="2"/><circle cx="995" cy="1037" r="2"/><circle cx="995" cy="1066" r="2"/><circle cx="995" cy="1095" r="2"/></g>
<path class="d" d="M800,1108H849 M910,1108H960"/>
<path class="s" d="M776,1124V1164 M828,1124V1164 M931,1124V1164 M983,1124V1164"/>
<path class="s" d="M776,1164C783,1156 795,1156 802,1164C809,1172 821,1172 828,1164 M776,1164C783,1172 795,1172 802,1164C809,1156 821,1156 828,1164 M931,1164C938,1156 950,1156 957,1164C964,1172 976,1172 983,1164 M931,1164C938,1172 950,1172 957,1164C964,1156 976,1156 983,1164"/>
<g class="s" stroke-width="0.9">
<path d="M759,1154H1000" marker-start="url(#ar)" marker-end="url(#ar)"/>
<path d="M716,1010V1124" marker-start="url(#ar)" marker-end="url(#ar)"/><path d="M711,1124H759"/>
<path d="M643,975H657L650,981Z M643,1004H657L650,1010Z"/>
<path d="M824,994H831V1018 M872,1114V1136H880 M742,1022V1032 M742,1094V1104 M1022,1024V1034 M1022,1094V1104"/>
</g>
<g class="l" style="font-size:6px">
<text x="608" y="971" textLength="85" lengthAdjust="spacingAndGlyphs">S.S.L+118.770/120.120</text>
<text x="607" y="1000" textLength="90" lengthAdjust="spacingAndGlyphs">T.O.C +118.520/119.870</text>
</g>
<g class="n">
<text x="774" y="999" text-anchor="middle">03</text><text x="818" y="997" text-anchor="middle">03</text><text x="984" y="999" text-anchor="middle">03</text>
<text x="771" y="1134" text-anchor="middle">03</text><text x="886" y="1138" text-anchor="middle">03</text><text x="988" y="1134" text-anchor="middle">03</text>
<text x="752" y="1039" text-anchor="middle">20</text><text x="752" y="1095" text-anchor="middle">20</text><text x="1007" y="1039" text-anchor="middle">20</text><text x="1007" y="1095" text-anchor="middle">20</text>
<text x="738" y="1030" text-anchor="middle" transform="rotate(-90 738 1030)">03</text><text x="738" y="1100" text-anchor="middle" transform="rotate(-90 738 1100)">03</text>
<text x="1018" y="1030" text-anchor="middle" transform="rotate(-90 1018 1030)">03</text><text x="1018" y="1100" text-anchor="middle" transform="rotate(-90 1018 1100)">03</text>
<text x="879" y="1150" text-anchor="middle" style="font-size:5px">2100</text>
<text x="712" y="1067" text-anchor="middle" transform="rotate(-90 712 1067)" style="font-size:5px">1000</text>
</g>
<text class="ti" x="851" y="1207" textLength="63" lengthAdjust="spacingAndGlyphs">04 - 04</text>
<line class="s" x1="851" y1="1210" x2="914" y2="1210"/>
<text class="l" x="851" y="1220" textLength="40" lengthAdjust="spacingAndGlyphs">SCALE 1:20</text>
<line class="s" x1="851" y1="1221.5" x2="891" y2="1221.5" stroke-width="0.7"/>
</g>

<!-- ================= KEY PLAN ================= -->
<g>
<g class="g">
<path d="M1312,997H1431 M1312,1003H1431"/>
<path d="M1309,1000V1236 M1315,1000V1236"/>
<path d="M1431,1007V1068 M1436,1007V1068"/>
<rect x="1362" y="1010" width="21" height="27"/>
<rect x="1365" y="1013" width="15" height="21"/>
<rect x="1295" y="1123" width="54" height="42" stroke-width="2"/>
<rect x="1317" y="1135" width="18" height="18" stroke-width="2.2"/>
<rect x="1394" y="1123" width="54" height="42" stroke-width="2"/>
<rect x="1403" y="1135" width="20" height="18" stroke-width="2.2"/>
<path d="M1176,1240L1183,1190L1188,1170L1196,1167L1199,1150L1203,1110L1209,1106L1229,1108L1232,1090L1255,1082L1262,1072L1300,1065"/>
<path d="M1180,1241L1187,1191L1192,1172L1200,1169L1203,1151L1207,1113L1213,1110L1233,1112L1236,1093L1258,1085L1265,1076L1300,1070"/>
<path d="M1568,1240L1561,1190L1556,1170L1548,1167L1545,1150L1541,1110L1535,1106L1515,1108L1512,1090L1489,1082L1482,1072L1444,1065"/>
<path d="M1564,1241L1557,1191L1552,1172L1544,1169L1541,1151L1537,1113L1531,1110L1511,1112L1508,1093L1486,1085L1479,1076L1444,1070"/>
<path d="M1183,1245L1222,1250 M1183,1250L1222,1254 M1250,1248H1284 M1250,1252H1284"/>
<path d="M1561,1245L1522,1250 M1561,1250L1522,1254 M1494,1248H1460 M1494,1252H1460"/>
<path d="M1318,1234Q1373,1226 1428,1234 M1318,1238Q1373,1230 1428,1238"/>
<rect x="1223" y="1230" width="27" height="27"/><rect x="1494" y="1230" width="27" height="27"/>
<rect x="1300" y="1067" width="20" height="30"/><rect x="1425" y="1067" width="18" height="30"/>
<rect x="1298" y="1207" width="22" height="26"/><rect x="1425" y="1207" width="18" height="28"/>
</g>
<g fill="#fff" stroke="#151515" stroke-width="1.1">
<circle cx="1225" cy="938" r="13"/><circle cx="1253" cy="938" r="13"/><circle cx="1282" cy="938" r="13"/><circle cx="1309" cy="938" r="13"/><circle cx="1347" cy="938" r="13"/><circle cx="1397" cy="938" r="13"/><circle cx="1434" cy="938" r="13"/><circle cx="1467" cy="938" r="13"/><circle cx="1512" cy="938" r="13"/>
<circle cx="1217" cy="1001" r="13"/><circle cx="1247" cy="1001" r="13"/><circle cx="1512" cy="1003" r="13"/><circle cx="1542" cy="1003" r="13"/>
<circle cx="1142" cy="1031" r="13"/><circle cx="1142" cy="1082" r="13"/><circle cx="1142" cy="1139" r="13"/><circle cx="1142" cy="1188" r="13"/><circle cx="1142" cy="1222" r="13"/><circle cx="1593" cy="1223" r="13"/>
</g>
<g class="k" text-anchor="middle">
<text x="1225" y="942">C</text><text x="1253" y="942">D</text><text x="1282" y="942">E</text><text x="1309" y="942">F</text><text x="1347" y="942">G</text><text x="1397" y="942">H</text><text x="1434" y="942">J</text><text x="1467" y="942">L</text><text x="1512" y="942">N</text>
<text x="1217" y="1005">A</text><text x="1247" y="1005">B</text><text x="1512" y="1007">P</text><text x="1542" y="1007">Q</text>
<text x="1142" y="1035">1</text><text x="1142" y="1086">2</text><text x="1142" y="1143">3</text><text x="1142" y="1192">4</text><text x="1142" y="1226">5</text><text x="1593" y="1227">6</text>
</g>
<g class="s" stroke="#333">
<path d="M1225,951V957H1233V983 M1282,951V957H1295V983"/>
<path d="M1253,951V983 M1309,951V983 M1347,951V983 M1397,951V983 M1434,951V983 M1467,951V983 M1512,951V983 M1155,1031H1187 M1155,1082H1187 M1155,1139H1187 M1155,1188H1187 M1215,1014L1210,1052 M1247,1014V1025H1223L1220,1052 M1512,1016V1028H1525V1057 M1542,1016V1028H1533V1057" stroke-dasharray="6,2,1,2"/>
<path d="M1155,1222L1182,1225 M1580,1225L1543,1232"/>
</g>
<use href="#pc1" transform="translate(1312,1000)"/>
<use href="#pc1" transform="translate(1350,1000) rotate(180)"/>
<use href="#pc1" transform="translate(1393,1000)"/>
<use href="#pc1" transform="translate(1431,1000) rotate(180)"/>
<use href="#pc1" transform="translate(1315,1048)"/>
<use href="#pc1" transform="translate(1335,1048) rotate(180)"/>
<use href="#pc1" transform="translate(1412,1048)"/>
<use href="#pc1" transform="translate(1431,1047) rotate(180)"/>
<use href="#pc1" transform="translate(1259,1080) rotate(70)"/>
<use href="#pc1" transform="translate(1234,1103) rotate(110)"/>
<use href="#pc1" transform="translate(1209,1109) rotate(80)"/>
<use href="#pc1" transform="translate(1483,1080) rotate(110)"/>
<use href="#pc1" transform="translate(1512,1103) rotate(70)"/>
<use href="#pc1" transform="translate(1535,1109) rotate(100)"/>
<use href="#pc1" transform="translate(1209,1147) rotate(30)"/>
<use href="#pc1" transform="translate(1533,1146) rotate(150)"/>
<use href="#pc1" transform="translate(1186,1187)"/>
<use href="#pc1" transform="translate(1276,1190) rotate(-90)"/>
<use href="#pc1" transform="translate(1313,1187)"/>
<use href="#pc1" transform="translate(1340,1185) rotate(-90)"/>
<use href="#pc1" transform="translate(1403,1186) rotate(-90)"/>
<use href="#pc1" transform="translate(1432,1186) rotate(-90)"/>
<use href="#pc1" transform="translate(1466,1190) rotate(-90)"/>
<use href="#pc1" transform="translate(1555,1187) rotate(180)"/>
<use href="#pc1" transform="translate(1250,1213) rotate(60)"/>
<use href="#pc1" transform="translate(1272,1223) rotate(-100)"/>
<use href="#pc1" transform="translate(1292,1225) rotate(160)"/>
<use href="#pc1" transform="translate(1452,1225) rotate(20)"/>
<use href="#pc1" transform="translate(1472,1223) rotate(-80)"/>
<use href="#pc1" transform="translate(1495,1212) rotate(120)"/>
<use href="#pc1" transform="translate(1178,1239) rotate(-90)"/>
<use href="#pc1" transform="translate(1288,1245) rotate(200)"/>
<use href="#pc1" transform="translate(1337,1233) rotate(-90)"/>
<use href="#pc1" transform="translate(1410,1233) rotate(-90)"/>
<use href="#pc1" transform="translate(1455,1247) rotate(-20)"/>
<use href="#pc1" transform="translate(1567,1240) rotate(-90)"/>
<use href="#pc3" transform="translate(1340,1087)"/>
<use href="#pc3" transform="translate(1403,1087)"/>
<use href="#pc4" transform="translate(1277,1104) rotate(12)"/>
<use href="#pc4" transform="translate(1256,1149)"/>
<use href="#pc4" transform="translate(1467,1105) rotate(-12)"/>
<use href="#pc4" transform="translate(1488,1149)"/>
<use href="#pc4" transform="translate(1233,1192) rotate(8)"/>
<use href="#pc4" transform="translate(1512,1191) rotate(-8)"/>
<use href="#pc4" transform="translate(1350,1216)"/>
<use href="#pc4" transform="translate(1393,1216)"/>
<g class="kp" text-anchor="middle">
<text x="1295" y="1001">PC1</text><text x="1356" y="991">PC1</text><text x="1388" y="991">PC1</text><text x="1448" y="999">PC1</text>
<text x="1300" y="1050">PC1</text><text x="1353" y="1049">PC1</text><text x="1406" y="1039">PC1</text><text x="1446" y="1047">PC1</text>
<text x="1340" y="1073">PC3</text><text x="1404" y="1073">PC3</text>
<text x="1259" y="1069">PC1</text><text x="1245" y="1097">PC1</text><text x="1207" y="1097">PC1</text><text x="1281" y="1093">PC4</text>
<text x="1478" y="1069">PC1</text><text x="1493" y="1109">PC1</text><text x="1550" y="1106">PC1</text><text x="1450" y="1099">PC4</text>
<text x="1223" y="1139">PC2</text><text x="1264" y="1140">PC4</text><text x="1492" y="1139">PC4</text><text x="1528" y="1135">PC2</text>
<text x="1199" y="1183">PC1</text><text x="1225" y="1178">PC4</text><text x="1289" y="1183">PC1</text><text x="1322" y="1178">PC1</text><text x="1352" y="1178">PC1</text><text x="1416" y="1178">PC1</text><text x="1444" y="1178">PC1</text><text x="1475" y="1179">PC1</text><text x="1517" y="1178">PC4</text><text x="1572" y="1184">PC1</text>
<text x="1236" y="1210">PC1</text><text x="1260" y="1237">PC1</text><text x="1288" y="1215">PC1</text><text x="1354" y="1206">PC4</text><text x="1390" y="1204">PC4</text><text x="1457" y="1216">PC1</text><text x="1482" y="1237">PC1</text><text x="1507" y="1207">PC1</text>
<text x="1190" y="1232">PC1</text><text x="1303" y="1251">PC1</text><text x="1334" y="1248">PC1</text><text x="1409" y="1249">PC1</text><text x="1458" y="1262">PC1</text><text x="1552" y="1238">PC1</text>
</g>
<text class="ti" x="1338" y="1274" textLength="85" lengthAdjust="spacingAndGlyphs" style="font-size:17px">KEY PLAN</text>
<line class="s" x1="1338" y1="1277" x2="1423" y2="1277"/>
<text class="l" x="1338" y="1291" textLength="20" lengthAdjust="spacingAndGlyphs">N.T.S</text>
<line class="s" x1="1338" y1="1292.5" x2="1358" y2="1292.5" stroke-width="0.7"/>
</g>
</svg>
</body></html>
